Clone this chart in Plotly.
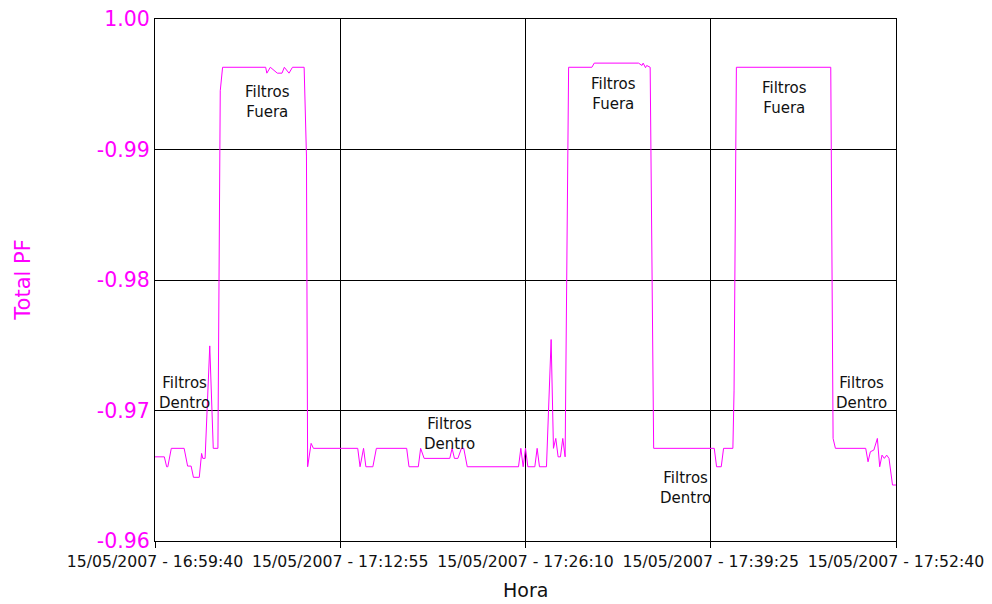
import plotly.graph_objects as go

DAY = "2007-05-15"

# Sample times (clock) and total power factor readings
hora = [
    "16:59:40", "17:00:20", "17:00:30", "17:00:35", "17:00:50", "17:01:45",
    "17:02:00", "17:02:15", "17:02:25", "17:02:50", "17:03:00", "17:03:05",
    "17:03:15", "17:03:35", "17:03:50", "17:04:10", "17:04:20", "17:04:30",
    "17:07:35", "17:07:40", "17:07:55", "17:08:25", "17:08:45", "17:08:55",
    "17:09:15", "17:09:30", "17:10:20", "17:10:30", "17:10:35", "17:10:50",
    "17:11:00", "17:14:10", "17:14:20", "17:14:35", "17:14:45", "17:15:15",
    "17:15:30", "17:17:40", "17:17:50", "17:18:30", "17:18:40", "17:18:55",
    "17:20:45", "17:20:55", "17:21:05", "17:21:20", "17:21:35", "17:21:45",
    "17:22:00", "17:25:40", "17:25:50", "17:26:00", "17:26:10", "17:26:20",
    "17:26:50", "17:27:00", "17:27:10", "17:27:40", "17:28:00", "17:28:10",
    "17:28:20", "17:28:30", "17:28:40", "17:28:50", "17:29:00", "17:29:15",
    "17:30:55", "17:31:05", "17:34:15", "17:34:30", "17:34:35", "17:34:45",
    "17:34:50", "17:35:05", "17:35:20", "17:39:40", "17:39:50", "17:40:10",
    "17:40:20", "17:41:00", "17:41:05", "17:41:15", "17:48:00", "17:48:10",
    "17:48:20", "17:50:30", "17:50:40", "17:50:50", "17:51:05", "17:51:20",
    "17:51:30", "17:51:40", "17:51:50", "17:52:00", "17:52:10", "17:52:25",
    "17:52:40",
]
total_pf = [
    -0.96645, -0.96645, -0.96569, -0.96569, -0.96710, -0.96710,
    -0.96574, -0.96574, -0.96488, -0.96488, -0.96671, -0.96633,
    -0.96633, -0.97495, -0.96710, -0.96710, -0.99450, -0.99630,
    -0.99630, -0.99585, -0.99630, -0.99585, -0.99585, -0.99630,
    -0.99585, -0.99630, -0.99630, -0.98950, -0.96569, -0.96748,
    -0.96710, -0.96710, -0.96569, -0.96710, -0.96569, -0.96569,
    -0.96710, -0.96710, -0.96569, -0.96569, -0.96710, -0.96633,
    -0.96633, -0.96710, -0.96633, -0.96633, -0.96710, -0.96710,
    -0.96569, -0.96569, -0.96710, -0.96569, -0.96710, -0.96569,
    -0.96569, -0.96710, -0.96569, -0.96569, -0.97544, -0.96710,
    -0.96786, -0.96645, -0.96645, -0.96786, -0.96645, -0.99630,
    -0.99630, -0.99662, -0.99662, -0.99644, -0.99662, -0.99627,
    -0.99644, -0.99630, -0.96710, -0.96710, -0.96569, -0.96569,
    -0.96710, -0.96710, -0.97150, -0.99630, -0.99630, -0.96786,
    -0.96710, -0.96710, -0.96607, -0.96684, -0.96697, -0.96786,
    -0.96569, -0.96658, -0.96633, -0.96658, -0.96633, -0.96429,
    -0.96429,
]

# Y axis ticks
y_ticks = [-1.00, -0.99, -0.98, -0.97, -0.96]
y_tick_text = ["1.00", "-0.99", "-0.98", "-0.97", "-0.96"]

# Notes on the trace: label, clock time, PF position
notas_txt = ["Filtros<br>Fuera", "Filtros<br>Fuera", "Filtros<br>Fuera",
             "Filtros<br>Dentro", "Filtros<br>Dentro", "Filtros<br>Dentro",
             "Filtros<br>Dentro"]
notas_hora = ["17:07:42", "17:32:29", "17:44:42",
              "17:01:46", "17:20:42", "17:37:38", "17:50:12"]
notas_pf = [-0.99365, -0.99426, -0.99395,
            -0.97137, -0.96819, -0.96410, -0.97137]

MAGENTA = "#FF00FF"
FONT = "DejaVu Sans"

fig = go.Figure()
fig.add_trace(go.Scatter(
    x=[f"{DAY} {h}" for h in hora],
    y=total_pf,
    mode="lines",
    line=dict(color=MAGENTA, width=1),
    showlegend=False,
))

for txt, h, pf in zip(notas_txt, notas_hora, notas_pf):
    fig.add_annotation(
        x=f"{DAY} {h}", y=pf, xref="x", yref="y",
        text=txt, showarrow=False,
        font=dict(family=FONT, size=15, color="#111111"),
        align="center", xanchor="center", yanchor="middle",
    )

# Axis titles
fig.add_annotation(
    x=0.5, y=-0.094, xref="paper", yref="paper",
    text="Hora", showarrow=False,
    xanchor="center", yanchor="middle",
    font=dict(family=FONT, size=19, color="#111111"),
)
fig.add_annotation(
    x=-0.1786, y=0.5, xref="paper", yref="paper",
    text="Total PF", textangle=-90, showarrow=False,
    xanchor="center", yanchor="middle",
    font=dict(family=FONT, size=21, color=MAGENTA),
)

fig.update_xaxes(
    type="date",
    range=[f"{DAY} 16:59:40", f"{DAY} 17:52:40"],
    tick0=f"{DAY} 16:59:40",
    dtick=795000,
    tickformat="%d/%m/%Y - %H:%M:%S",
    tickfont=dict(family=FONT, size=15.7, color="#111111"),
    showgrid=True, gridcolor="black", gridwidth=1,
    showline=True, linecolor="black", linewidth=1, mirror=True,
    ticks="outside", ticklen=6, tickcolor="black",
    zeroline=False, automargin=False,
)
fig.update_yaxes(
    range=[-0.96, -1.00],
    tickvals=y_ticks,
    ticktext=y_tick_text,
    tickfont=dict(family=FONT, size=20.5, color=MAGENTA),
    showgrid=True, gridcolor="black", gridwidth=1,
    showline=True, linecolor="black", linewidth=1, mirror=True,
    ticks="", zeroline=False, automargin=False,
)

fig.update_layout(
    width=992, height=604,
    margin=dict(l=154.5, r=95.5, t=18.5, b=63, autoexpand=False),
    plot_bgcolor="white", paper_bgcolor="white",
)

fig.write_html("out.html")
